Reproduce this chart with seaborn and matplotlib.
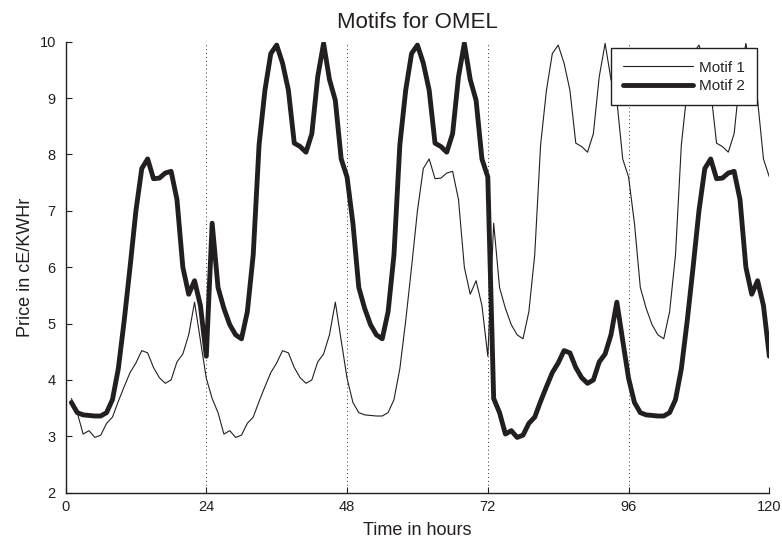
import pandas as pd
import matplotlib
matplotlib.use('Agg')
import matplotlib.pyplot as plt
import seaborn as sns

# hourly prices over 5 days
hours = list(range(1, 121))

motif_1 = [
    3.67, 3.42, 3.04, 3.10, 2.98, 3.02, 3.23, 3.34, 3.62, 3.88, 4.13, 4.30,
    4.52, 4.48, 4.22, 4.04, 3.94, 4.00, 4.32, 4.46, 4.80, 5.38, 4.70, 4.03,
    3.67, 3.42, 3.04, 3.10, 2.98, 3.02, 3.23, 3.34, 3.62, 3.88, 4.13, 4.30,
    4.52, 4.48, 4.22, 4.04, 3.94, 4.00, 4.32, 4.46, 4.80, 5.38, 4.70, 4.03,
    3.60, 3.42, 3.38, 3.37, 3.36, 3.36, 3.42, 3.65, 4.20, 5.05, 6.00, 7.00,
    7.75, 7.92, 7.57, 7.58, 7.67, 7.70, 7.20, 6.00, 5.52, 5.76, 5.32, 4.42,
    6.78, 5.64, 5.27, 4.98, 4.80, 4.73, 5.21, 6.22, 8.17, 9.14, 9.79, 9.94,
    9.62, 9.14, 8.20, 8.14, 8.04, 8.37, 9.38, 9.97, 9.33, 8.96, 7.92, 7.60,
    6.78, 5.64, 5.27, 4.98, 4.80, 4.73, 5.21, 6.22, 8.17, 9.14, 9.79, 9.94,
    9.62, 9.14, 8.20, 8.14, 8.04, 8.37, 9.38, 9.97, 9.33, 8.96, 7.92, 7.60,
]

motif_2 = [
    3.60, 3.42, 3.38, 3.37, 3.36, 3.36, 3.42, 3.65, 4.20, 5.05, 6.00, 7.00,
    7.75, 7.92, 7.57, 7.58, 7.67, 7.70, 7.20, 6.00, 5.52, 5.76, 5.32, 4.42,
    6.78, 5.64, 5.27, 4.98, 4.80, 4.73, 5.21, 6.22, 8.17, 9.14, 9.79, 9.94,
    9.62, 9.14, 8.20, 8.14, 8.04, 8.37, 9.38, 9.97, 9.33, 8.96, 7.92, 7.60,
    6.78, 5.64, 5.27, 4.98, 4.80, 4.73, 5.21, 6.22, 8.17, 9.14, 9.79, 9.94,
    9.62, 9.14, 8.20, 8.14, 8.04, 8.37, 9.38, 9.97, 9.33, 8.96, 7.92, 7.60,
    3.67, 3.42, 3.04, 3.10, 2.98, 3.02, 3.23, 3.34, 3.62, 3.88, 4.13, 4.30,
    4.52, 4.48, 4.22, 4.04, 3.94, 4.00, 4.32, 4.46, 4.80, 5.38, 4.70, 4.03,
    3.60, 3.42, 3.38, 3.37, 3.36, 3.36, 3.42, 3.65, 4.20, 5.05, 6.00, 7.00,
    7.75, 7.92, 7.57, 7.58, 7.67, 7.70, 7.20, 6.00, 5.52, 5.76, 5.32, 4.42,
]

x_ticks = [0, 24, 48, 72, 96, 120]
y_ticks = [2, 3, 4, 5, 6, 7, 8, 9, 10]

df = pd.DataFrame({'hour': hours, 'Motif 1': motif_1, 'Motif 2': motif_2})

sns.set_style('ticks')
plt.rcParams['font.family'] = ['Liberation Sans', 'DejaVu Sans']

fig = plt.figure(figsize=(7.82, 5.45), dpi=100)
ax = fig.add_axes([0.0838, 0.096, 0.9, 0.8275])

ink = '#231f20'
sns.lineplot(data=df, x='hour', y='Motif 1', color=ink, linewidth=0.8, label='Motif 1', ax=ax)
sns.lineplot(data=df, x='hour', y='Motif 2', color=ink, linewidth=3.5, label='Motif 2', ax=ax)

# axes, ticks, dotted day separators
ax.set_xlim(0, 120)
ax.set_ylim(2, 10)
ax.set_xticks(x_ticks)
ax.set_yticks(y_ticks)
ax.xaxis.grid(True, linestyle=(0, (1, 3)), color='#333333', linewidth=0.7)
ax.yaxis.grid(False)
sns.despine(ax=ax)
for side in ['left', 'bottom']:
    ax.spines[side].set_color(ink)
    ax.spines[side].set_linewidth(1.0)
ax.tick_params(axis='both', direction='in', length=4, width=0.8, colors=ink, labelsize=10.5)
ax.tick_params(axis='y', pad=7)
ax.tick_params(axis='x', pad=5)

ax.set_title('Motifs for OMEL', fontsize=16, pad=10, color=ink)
ax.set_xlabel('Time in hours', fontsize=13, color=ink, labelpad=6)
ax.set_ylabel('Price in cE/KWHr', fontsize=13, color=ink)

leg = ax.legend(loc='upper right', bbox_to_anchor=(0.983, 0.985), borderaxespad=0,
                fontsize=11, handlelength=4.6, handletextpad=0.4, labelspacing=0.3,
                borderpad=0.8, fancybox=False, framealpha=1)
leg.get_frame().set_edgecolor(ink)
leg.get_frame().set_linewidth(1.0)

plt.savefig('out.png', dpi=100)
plt.close()
